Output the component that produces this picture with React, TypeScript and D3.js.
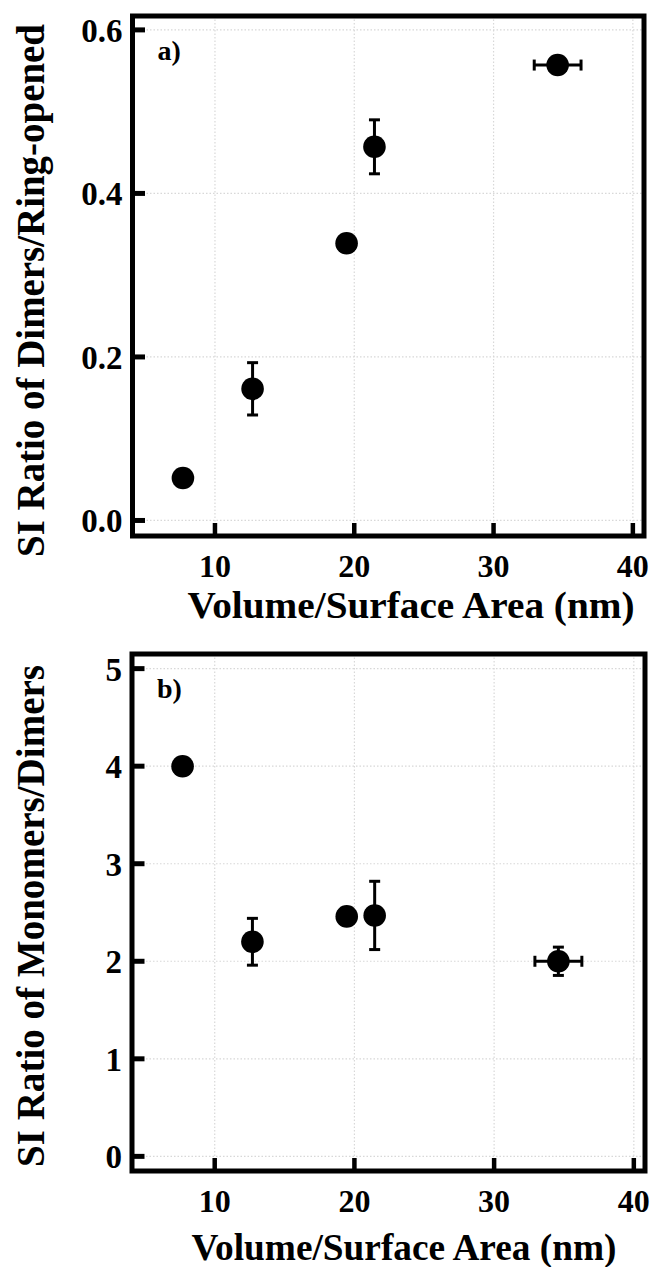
import React from "react";
import * as d3 from "d3";

// ---- data ----
const sizes = [7.7, 12.7, 19.45, 21.45, 34.6]; // Volume/Surface Area (nm)
const sizeErr = [0, 0, 0, 0, 1.68];
const dimerRingRatio = [0.052, 0.161, 0.339, 0.457, 0.557];
const dimerRingErr = [0, 0.032, 0, 0.033, 0];
const monomerDimerRatio = [4.0, 2.2, 2.46, 2.47, 2.0];
const monomerDimerErr = [0, 0.24, 0, 0.35, 0.145];
const xTicks = [10, 20, 30, 40];
const yTicksA = [0, 0.2, 0.4, 0.6];
const yTicksB = [0, 1, 2, 3, 4, 5];

const FONT = "'Liberation Serif', 'Times New Roman', serif";

type PanelProps = {
  top: number;
  bottom: number;
  left: number;
  right: number;
  yDomain: [number, number];
  yTicks: number[];
  yFmt: (v: number) => string;
  yVals: number[];
  yErr: number[];
  tag: string;
  yTitle: string;
  yTitleLen: number;
  yTitleX: number;
  yTitleY: number;
  xTitleY: number;
  xTitleX: number;
  xTitleLen: number;
};

function Panel(p: PanelProps) {
  const x = d3.scaleLinear().domain([4.08, 40.8]).range([p.left, p.right]);
  const y = d3.scaleLinear().domain(p.yDomain).range([p.bottom, p.top]);
  const cap = 5.5;
  const r = 11.3;
  return (
    <g>
      {xTicks.map((t) => (
        <line key={"gx" + t} x1={x(t)} x2={x(t)} y1={p.top} y2={p.bottom}
          stroke="#d8d8d8" strokeWidth={1.2} strokeDasharray="1.5,2" />
      ))}
      {p.yTicks.map((t) => (
        <line key={"gy" + t} x1={p.left} x2={p.right} y1={y(t)} y2={y(t)}
          stroke="#d8d8d8" strokeWidth={1.2} strokeDasharray="1.5,2" />
      ))}
      <rect x={p.left} y={p.top} width={p.right - p.left} height={p.bottom - p.top}
        fill="none" stroke="#000" strokeWidth={5} />
      {xTicks.map((t) => (
        <g key={"tx" + t}>
          <line x1={x(t)} x2={x(t)} y1={p.bottom} y2={p.bottom - 13} stroke="#000" strokeWidth={4.5} />
          <text x={x(t)} y={p.bottom + 40.7} textAnchor="middle" fontFamily={FONT}
            fontWeight="bold" fontSize={32}>{t}</text>
        </g>
      ))}
      {p.yTicks.map((t) => (
        <g key={"ty" + t}>
          <line x1={p.left} x2={p.left + 12.5} y1={y(t)} y2={y(t)} stroke="#000" strokeWidth={5} />
          <text x={p.left - 10} y={y(t) + 12} textAnchor="end" fontFamily={FONT}
            fontWeight="bold" fontSize={33}>{p.yFmt(t)}</text>
        </g>
      ))}
      {sizes.map((s, i) => {
        const e = p.yErr[i];
        if (!e) return null;
        const cx = x(s);
        return (
          <g key={"ey" + i} stroke="#000" strokeWidth={3}>
            <line x1={cx} x2={cx} y1={y(p.yVals[i] - e)} y2={y(p.yVals[i] + e)} />
            <line x1={cx - cap} x2={cx + cap} y1={y(p.yVals[i] - e)} y2={y(p.yVals[i] - e)} />
            <line x1={cx - cap} x2={cx + cap} y1={y(p.yVals[i] + e)} y2={y(p.yVals[i] + e)} />
          </g>
        );
      })}
      {sizes.map((s, i) => {
        const e = sizeErr[i];
        if (!e) return null;
        const cy = y(p.yVals[i]);
        return (
          <g key={"ex" + i} stroke="#000" strokeWidth={3}>
            <line x1={x(s - e)} x2={x(s + e)} y1={cy} y2={cy} />
            <line x1={x(s - e)} x2={x(s - e)} y1={cy - cap} y2={cy + cap} />
            <line x1={x(s + e)} x2={x(s + e)} y1={cy - cap} y2={cy + cap} />
          </g>
        );
      })}
      {sizes.map((s, i) => (
        <circle key={"c" + i} cx={x(s)} cy={y(p.yVals[i])} r={r} fill="#000" />
      ))}
      <text x={p.left + 25} y={p.top + 44} fontFamily={FONT} fontWeight="bold" fontSize={28}>{p.tag}</text>
      <text x={p.xTitleX} y={p.xTitleY} textAnchor="middle" fontFamily={FONT} fontWeight="bold"
        fontSize={38} textLength={p.xTitleLen} lengthAdjust="spacingAndGlyphs">Volume/Surface Area (nm)</text>
      <text transform={"translate(" + p.yTitleX + "," + p.yTitleY + ") rotate(-90)"}
        textAnchor="middle" fontFamily={FONT} fontWeight="bold" fontSize={40}
        textLength={p.yTitleLen} lengthAdjust="spacingAndGlyphs">{p.yTitle}</text>
    </g>
  );
}

export default function App() {
  return (
    <svg width={650} height={1267} style={{ position: "absolute", left: 0, top: 0, background: "#fff" }}>
      <rect width={650} height={1267} fill="#fff" />
      <Panel top={16} bottom={536} left={132.5} right={644} yDomain={[-0.019, 0.617]}
        yTicks={yTicksA} yFmt={(v) => v.toFixed(1)} yVals={dimerRingRatio} yErr={dimerRingErr}
        tag="a)" yTitle="SI Ratio of Dimers/Ring-opened" yTitleLen={533} yTitleX={43.5} yTitleY={290.5}
        xTitleY={618.3} xTitleX={411} xTitleLen={447} />
      <Panel top={654} bottom={1171} left={132} right={645} yDomain={[-0.15, 5.15]}
        yTicks={yTicksB} yFmt={(v) => String(v)} yVals={monomerDimerRatio} yErr={monomerDimerErr}
        tag="b)" yTitle="SI Ratio of Monomers/Dimers" yTitleLen={502} yTitleX={43.5} yTitleY={916}
        xTitleY={1260} xTitleX={404} xTitleLen={425} />
    </svg>
  );
}
